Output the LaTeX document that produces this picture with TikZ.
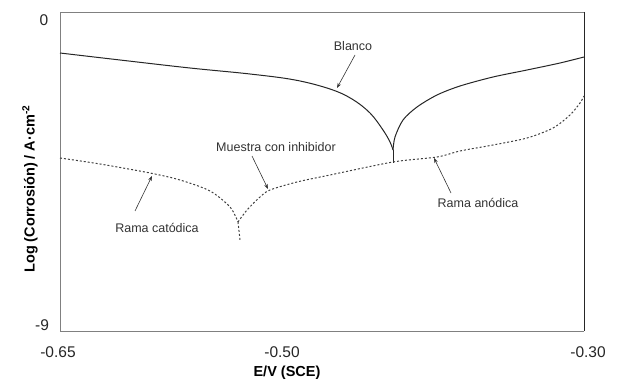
\documentclass[tikz,border=0pt]{standalone}
\usepackage{fontspec}
\setmainfont{Liberation Sans}
\usetikzlibrary{arrows.meta}
\begin{document}
\begin{tikzpicture}[x=1pt,y=-1pt,
  lbl/.style={font=\fontsize{12.5}{14}\selectfont, text=black!80, inner sep=0pt},
  tick/.style={font=\fontsize{15.5}{17}\selectfont, text=black!85, inner sep=0pt},
  axtitle/.style={font=\bfseries\fontsize{14.5}{16}\selectfont, inner sep=0pt},
  pointer/.style={draw=black!80, line width=0.6pt, -{Stealth[length=5pt,width=3.6pt]}},
  blanco/.style={draw=black!85, line width=1pt},
  inhib/.style={draw=black!75, line width=1pt, dash pattern=on 2pt off 2pt}]
\useasboundingbox (0,0) rectangle (618,382);
% frame
\draw[black!50, line width=0.8pt] (584,12) -- (60,12) -- (60,331) -- (584,331);
\draw[black!85, line width=1pt] (584,12) -- (584,331);
% tick labels
\node[tick] (t0) at (44,20) {0};
\node[tick] (t9) at (42,325) {-9};
\node[tick] (xa) at (58,352) {-0.65};
\node[tick] (xb) at (282,352) {-0.50};
\node[tick] (xc) at (588,352) {-0.30};
\node[axtitle] (xt) at (287,373) {E/V (SCE)};
\node[axtitle, rotate=90] (yt) at (30,189) {Log (Corrosión) / A·cm\textsuperscript{-2}};
% Blanco curve
\draw[blanco] plot[smooth, tension=0.6] coordinates {(60,53) (120,60) (190,68) (250,74) (295,80) (330,89) (352,99) (370,113) (383,130) (390,142) (393,150)};
\draw[blanco] (393,150) -- (393,163);
\draw[blanco] plot[smooth, tension=0.5] coordinates {(393,150) (395,137) (403,120) (417,107) (437,95) (460,86) (493,77) (527,70) (560,63) (584,57)};
% Inhibitor curve
\draw[inhib] plot[smooth, tension=0.5] coordinates {(60,158) (100,164) (150,173) (180,180) (210,191) (230,207) (238,222)};
\draw[inhib] (238,222) -- (240,240);
\draw[inhib] plot[smooth, tension=0.5] coordinates {(238,222) (247,210) (260,197) (270,190) (297,182) (330,175) (393,162) (437,157) (460,151) (493,145) (527,138) (553,128) (570,115) (580,103) (584,96)};
% labels and pointers
\node[lbl] (lb) at (353,46) {Blanco};
\coordinate (pb) at (337,88);
\draw[pointer] (355,55) -- (pb);
\node[lbl] (lm) at (276,147) {Muestra con inhibidor};
\coordinate (pm) at (268,189);
\draw[pointer] (252,156) -- (pm);
\node[lbl] (lc) at (157,228) {Rama catódica};
\coordinate (pc) at (152,176);
\draw[pointer] (135,211) -- (pc);
\node[lbl] (la) at (478,203) {Rama anódica};
\coordinate (pa) at (434,158);
\draw[pointer] (451,193) -- (pa);
\end{tikzpicture}
\end{document}
